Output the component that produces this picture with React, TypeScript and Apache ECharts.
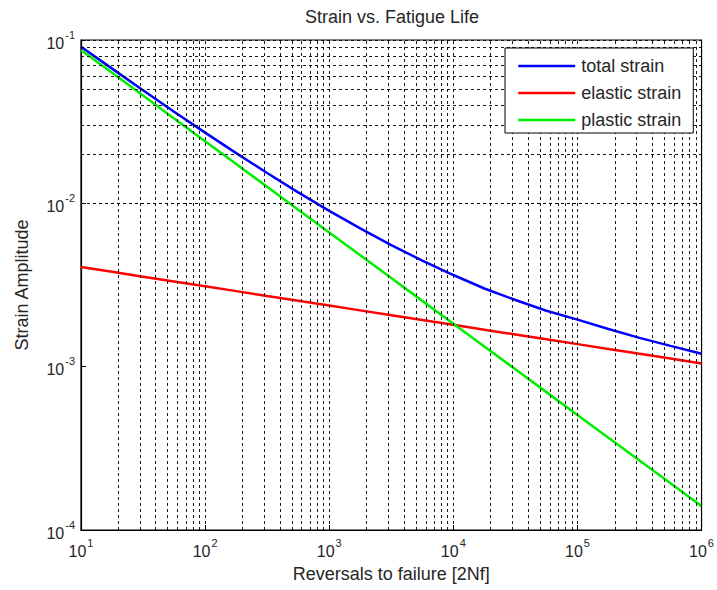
import React, { useEffect, useRef } from "react";
import * as echarts from "echarts";

// Reversals to failure (2Nf)
const xValues = [
  10, 17.8, 31.6, 56.2, 100, 178, 316, 562, 1000, 1778, 3162, 5623, 10000,
  17783, 31623, 56234, 100000, 177828, 316228, 562341, 1000000,
];
// Strain amplitudes
const totalStrain = [
  0.091, 0.0668, 0.0492, 0.0364, 0.0271, 0.0203, 0.01533, 0.01168, 0.009,
  0.00702, 0.00555, 0.00446, 0.00364, 0.00301, 0.00256, 0.0022, 0.00194,
  0.0017, 0.0015, 0.00134, 0.0012,
];
const elasticStrain = [
  0.00407, 0.003806, 0.003556, 0.003322, 0.003105, 0.002901, 0.00271,
  0.002532, 0.002366, 0.002211, 0.002065, 0.00193, 0.001803, 0.001685,
  0.001574, 0.001471, 0.001374, 0.001284, 0.001199, 0.001121, 0.001047,
];
const plasticStrain = [
  0.0869, 0.063, 0.04567, 0.0331, 0.02401, 0.01741, 0.01262, 0.00915,
  0.006635, 0.00481, 0.003487, 0.002528, 0.001833, 0.001329, 0.0009636,
  0.0006985, 0.0005065, 0.0003672, 0.0002662, 0.000193, 0.00014,
];

// Tick labels (exponents of 10)
const xTickExponents = ["1", "2", "3", "4", "5", "6"];
const yTickExponents = ["-4", "-3", "-2", "-1"];

// Grid line positions
const xGridDecades = [10, 100, 1000, 10000, 100000];
const yGridDecades = [0.0001, 0.001, 0.01];
const gridMantissas = [1, 2, 3, 4, 5, 6, 7, 8, 9];

const FONT = "Liberation Sans, Arial, Helvetica, sans-serif";
const TEXT = "#262626";

export default function App() {
  const ref = useRef<HTMLDivElement>(null);

  useEffect(() => {
    if (!ref.current) return;
    const chart = echarts.init(ref.current, undefined, { renderer: "svg" });

    const xGrid: number[] = [];
    xGridDecades.forEach((d) => gridMantissas.forEach((m) => xGrid.push(d * m)));
    xGrid.push(1000000);
    const yGrid: number[] = [];
    yGridDecades.forEach((d) => gridMantissas.forEach((m) => yGrid.push(d * m)));
    yGrid.push(0.1);

    const gridLineData: any[] = [
      ...xGrid.map((v) => ({ xAxis: v })),
      ...yGrid.map((v) => ({ yAxis: v })),
    ];

    const pair = (ys: number[]) => xValues.map((x, i) => [x, ys[i]]);

    const rich = {
      b: { fontSize: 16, fontFamily: FONT, color: TEXT, lineHeight: 22, verticalAlign: "bottom" },
      s: { fontSize: 11, fontFamily: FONT, color: TEXT, lineHeight: 22, verticalAlign: "top", padding: [0, 0, 0, 1] },
    };

    chart.setOption({
      animation: false,
      backgroundColor: "#fff",
      graphic: [
        {
          type: "text",
          x: 392,
          y: 8,
          style: {
            text: "Strain vs. Fatigue Life",
            fontSize: 18,
            fontFamily: FONT,
            fill: TEXT,
            textAlign: "center",
          },
        },
      ],
      grid: {
        left: 81,
        top: 40,
        right: 13,
        bottom: 60,
        show: true,
        borderColor: "#000",
        borderWidth: 1.2,
        containLabel: false,
      },
      legend: {
        data: ["total strain", "elastic strain", "plastic strain"],
        orient: "vertical",
        left: 505,
        top: 48,
        padding: [9, 12, 4, 12],
        itemWidth: 57,
        itemHeight: 18,
        itemGap: 9,
        borderColor: "#000",
        borderWidth: 1,
        backgroundColor: "#fff",
        itemStyle: { opacity: 0, borderWidth: 0 },
        lineStyle: { width: 2.5 },
        textStyle: { fontSize: 18, fontFamily: FONT, color: TEXT, padding: [0, 0, 0, 1] },
        z: 10,
      },
      xAxis: {
        type: "log",
        logBase: 10,
        min: 10,
        max: 1000000,
        name: "Reversals to failure [2Nf]",
        nameLocation: "middle",
        nameGap: 35,
        nameTextStyle: { fontSize: 18, fontFamily: FONT, color: TEXT },
        axisLine: { show: true, lineStyle: { color: "#000", width: 1.2 } },
        axisTick: { show: true, inside: true, length: 5, lineStyle: { color: "#000" } },
        splitLine: { show: false },
        axisLabel: {
          margin: 7,
          formatter: (v: number) => {
            const idx = Math.round(Math.log10(v)) - 1;
            return `{b|10}{s|${xTickExponents[idx]}}`;
          },
          rich,
        },
      },
      yAxis: {
        type: "log",
        logBase: 10,
        min: 0.0001,
        max: 0.1,
        name: "Strain Amplitude",
        nameLocation: "middle",
        nameGap: 50,
        nameTextStyle: { fontSize: 18, fontFamily: FONT, color: TEXT },
        axisLine: { show: true, lineStyle: { color: "#000", width: 1.2 } },
        axisTick: { show: true, inside: true, length: 5, lineStyle: { color: "#000" } },
        splitLine: { show: false },
        axisLabel: {
          margin: 6,
          formatter: (v: number) => {
            const idx = Math.round(Math.log10(v)) + 4;
            return `{b|10}{s|${yTickExponents[idx]}}`;
          },
          rich,
        },
      },
      series: [
        {
          name: "grid",
          type: "line",
          data: [],
          silent: true,
          z: 1,
          markLine: {
            silent: true,
            symbol: "none",
            label: { show: false },
            lineStyle: { color: "#000", type: [3, 3], width: 1, opacity: 0.9 },
            data: gridLineData,
          },
        },
        {
          name: "total strain",
          type: "line",
          data: pair(totalStrain),
          symbol: "none",
          z: 3,
          lineStyle: { color: "#0000ff", width: 2.5 },
          itemStyle: { color: "#0000ff" },
        },
        {
          name: "elastic strain",
          type: "line",
          data: pair(elasticStrain),
          symbol: "none",
          z: 3,
          lineStyle: { color: "#ff0000", width: 2.5 },
          itemStyle: { color: "#ff0000" },
        },
        {
          name: "plastic strain",
          type: "line",
          data: pair(plasticStrain),
          symbol: "none",
          z: 3,
          lineStyle: { color: "#00ee00", width: 2.5 },
          itemStyle: { color: "#00ee00" },
        },
      ],
    });

    return () => chart.dispose();
  }, []);

  return (
    <div
      ref={ref}
      style={{ position: "fixed", left: 0, top: 0, width: 717, height: 590 }}
    />
  );
}
